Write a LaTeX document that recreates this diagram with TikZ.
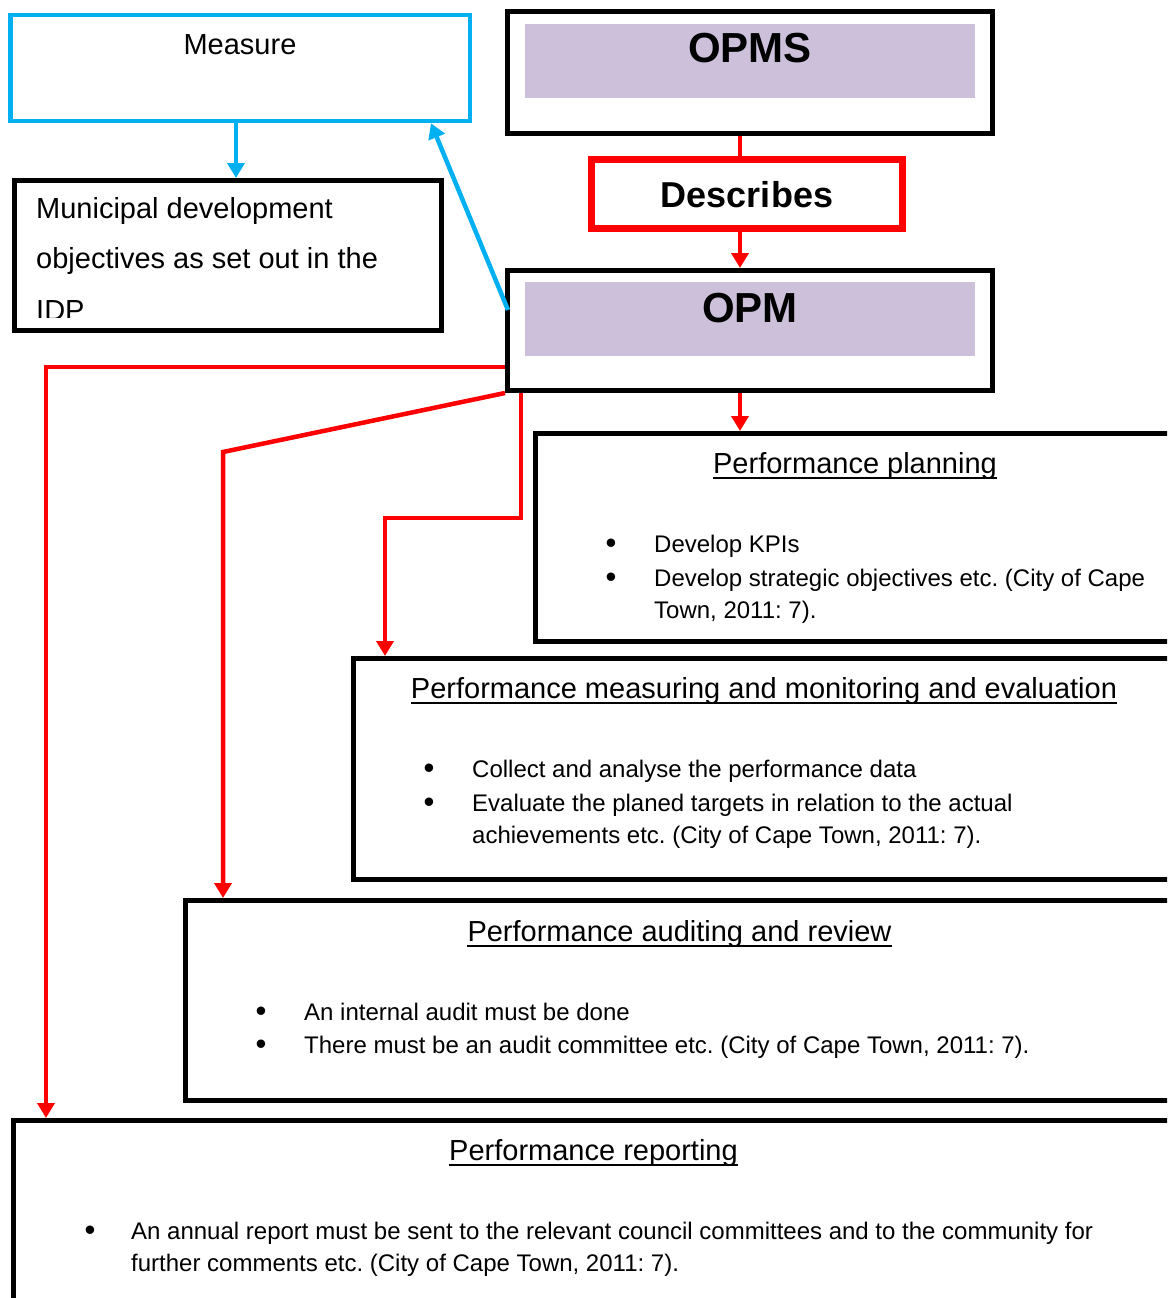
\documentclass[tikz,border=0pt]{standalone}
\usepackage{fontspec}
\setmainfont{Liberation Sans}
\usetikzlibrary{arrows.meta,calc}
\definecolor{sky}{HTML}{00B0F0}
\definecolor{lav}{HTML}{CCC0DA}
\definecolor{rd}{HTML}{FF0000}
\frenchspacing

\tikzset{
  frame/.style={draw=black, line width=5pt, fill=white, inner sep=0pt},
  band/.style={fill=lav, draw=none, inner sep=0pt},
  title/.style={anchor=base, inner sep=0pt, font=\bfseries\fontsize{42pt}{50pt}\selectfont},
  plain/.style={anchor=base west, inner sep=0pt, font=\fontsize{29pt}{35pt}\selectfont},
  head/.style={anchor=base, inner sep=0pt, font=\fontsize{29pt}{35pt}\selectfont},
  body/.style={anchor=base west, inner sep=0pt, font=\fontsize{24pt}{29pt}\selectfont},
  dot/.style={anchor=base, inner sep=0pt, font=\fontsize{31pt}{35pt}\selectfont},
  uline/.style={draw=black, line width=2pt},
  redline/.style={draw=rd, line width=4.5pt},
  redarrow/.style={redline, -{Triangle[width=17pt,length=15pt]}},
  skyarrow/.style={draw=sky, line width=4.5pt, -{Triangle[width=17pt,length=15pt]}},
}

\newcommand{\headline}[3]{%
  \node[head] (#1) at (#2) {#3};
  \draw[uline] ([yshift=-4.5pt]#1.base west) -- ([yshift=-4.5pt]#1.base east);
}

\begin{document}
\begin{tikzpicture}[x=1pt, y=-1pt]
\useasboundingbox (0,0) rectangle (1167,1298);
\fill[white] (0,0) rectangle (1167,1298);
\clip (0,0) rectangle (1167,1298);

% ---- frames ----
\node[frame, draw=sky, line width=4.5pt, minimum width=459.5pt, minimum height=106pt] (measure) at (240.25,68) {};
\node[frame, minimum width=427.5pt, minimum height=150pt] (muni) at (227.75,255.5) {};
\node[frame, minimum width=484.5pt, minimum height=121.5pt] (opms) at (749.75,72.75) {};
\node[band, minimum width=450pt, minimum height=74pt] (opmsband) at (750,61) {};
\node[frame, draw=rd, line width=7pt, minimum width=310.5pt, minimum height=69pt] (descr) at (746.75,194) {};
\node[frame, minimum width=484.5pt, minimum height=120pt] (opm) at (749.75,330.5) {};
\node[band, minimum width=450pt, minimum height=74pt] (opmband) at (750,319) {};
\node[frame, minimum width=664.5pt, minimum height=207.5pt] (plan) at (867.75,537.25) {};
\node[frame, minimum width=846.5pt, minimum height=220.5pt] (meas) at (776.75,768.75) {};
\node[frame, minimum width=1014.5pt, minimum height=199.5pt] (audit) at (692.75,1000.25) {};
\node[frame, minimum width=1186.5pt, minimum height=209.5pt] (report) at (606.75,1225.25) {};

% ---- texts of the upper boxes ----
\node[head] (tmeasure) at (240,54.5) {Measure};
\begin{scope}
  \clip (17,184) rectangle (438,317);
  \node[plain] (muni1) at (36,218) {Municipal development};
  \node[plain] (muni2) at (36,268) {objectives as set out in the};
  \node[plain] (muni3) at (36,320) {IDP};
\end{scope}
\node[title] (topms) at (750,63) {OPMS};
\node[title, font=\bfseries\fontsize{36pt}{44pt}\selectfont] (tdescr) at (747,207) {Describes};
\node[title] (topm) at (750,322) {OPM};

% ---- Performance planning ----
\headline{hplan}{855,473}{Performance planning}
\node[dot] (bp1) at (611,553) {•};
\node[body] (tp1) at (654,552) {Develop KPIs};
\node[dot] (bp2) at (611,587) {•};
\node[body] (tp2) at (654,586) {Develop strategic objectives etc. (City of Cape};
\node[body] (tp3) at (654,618) {Town, 2011: 7).};

% ---- Performance measuring ----
\headline{hmeas}{764,698}{Performance measuring and monitoring and evaluation}
\node[dot] (bm1) at (429,778) {•};
\node[body] (tm1) at (472,777) {Collect and analyse the performance data};
\node[dot] (bm2) at (429,812) {•};
\node[body] (tm2) at (472,811) {Evaluate the planed targets in relation to the actual};
\node[body] (tm3) at (472,843) {achievements etc. (City of Cape Town, 2011: 7).};

% ---- Performance auditing ----
\headline{haudit}{679.5,941}{Performance auditing and review}
\node[dot] (ba1) at (261,1021) {•};
\node[body] (ta1) at (304,1020) {An internal audit must be done};
\node[dot] (ba2) at (261,1054) {•};
\node[body] (ta2) at (304,1053) {There must be an audit committee etc. (City of Cape Town, 2011: 7).};

% ---- Performance reporting ----
\headline{hrep}{593.5,1160}{Performance reporting}
\node[dot] (br1) at (90,1240) {•};
\node[body] (tr1) at (131,1239) {An annual report must be sent to the relevant council committees and to the community for};
\node[body] (tr2) at (131,1271) {further comments etc. (City of Cape Town, 2011: 7).};

% ---- connector guide points ----
\coordinate (xmid) at (740,0);
\coordinate (xdown) at (236,0);
\coordinate (xback) at (431,0);
\coordinate (yback) at (0,310);
\coordinate (r1) at (46,367);
\coordinate (r2) at (223,452);
\coordinate (r3a) at (521,518);
\coordinate (r3b) at (385,518);

% ---- blue connectors ----
\draw[skyarrow] (measure.south -| xdown) -- (muni.north -| xdown);
\draw[skyarrow] ([xshift=3pt]opm.west |- yback) -- (measure.south -| xback);

% ---- red connectors ----
\draw[redline] (opms.south -| xmid) -- (descr.north -| xmid);
\draw[redarrow] (descr.south -| xmid) -- (opm.north -| xmid);
\draw[redarrow] (opm.south -| xmid) -- (plan.north -| xmid);
\draw[redarrow] (opm.west |- r1) -- (r1) -- (report.north -| r1);
\draw[redarrow] (opm.south west) -- (r2) -- (audit.north -| r2);
\draw[redarrow] (opm.south -| r3a) -- (r3a) -- (r3b) -- (meas.north -| r3b);
\end{tikzpicture}
\end{document}
